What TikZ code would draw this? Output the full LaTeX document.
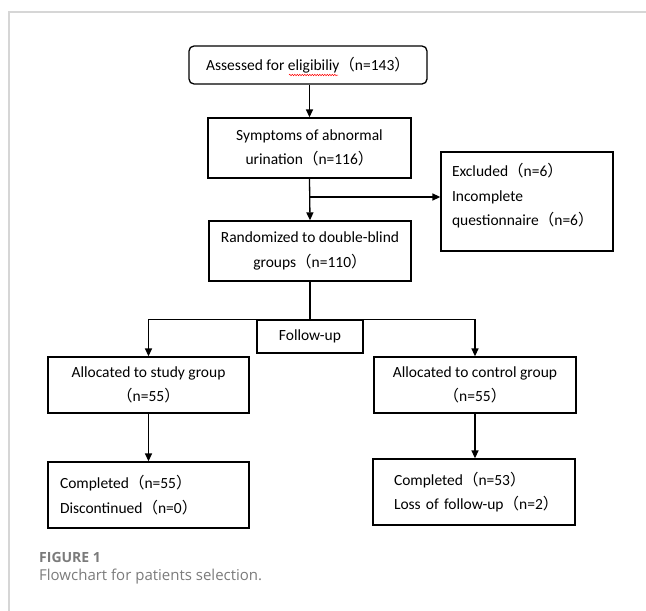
\documentclass[tikz,border=0pt]{standalone}
\usepackage{fontspec}
\setmainfont{Carlito}
\newfontfamily\cjk{Noto Sans CJK SC}
\newfontfamily\capfont{Open Sans}
\usetikzlibrary{arrows.meta,decorations.pathmorphing}
\newcommand{\fwo}{{\cjk （}}
\newcommand{\fwc}{{\cjk ）}}
\definecolor{framegray}{HTML}{D6D6D6}
\definecolor{capgray}{HTML}{7B7B7B}

\begin{document}
\begin{tikzpicture}[x=1pt,y=-1pt,
  >={Triangle[length=8pt,width=7pt]},
  box/.style={draw,line width=1.3pt,inner sep=0pt,align=center,font=\fontsize{15.5}{24.5}\selectfont},
  link/.style={line width=1.3pt},
  captext/.style={anchor=base west,inner sep=0pt,text=capgray}]
\useasboundingbox (0,0) rectangle (646,611);
\draw[framegray,line width=1.5pt] (9,611) -- (9,12) -- (646,12);
% main column
\node[box,rounded corners=5pt,minimum width=238pt,minimum height=38pt] (assess) at (308,65) {Assessed for eligibiliy\fwo n=143\fwc};
\node[box,minimum width=203pt,minimum height=60pt] (sympt) at (309.5,148) {Symptoms of abnormal\\urination\fwo n=116\fwc};
\node[box,minimum width=202pt,minimum height=60pt] (rand) at (310,251) {Randomized to double-blind\\groups\fwo n=110\fwc};
\node[box,align=left,text width=150pt,inner xsep=11pt,minimum height=99pt] (excl) at (527,201.5) {Excluded\fwo n=6\fwc\\Incomplete\\questionnaire\fwo n=6\fwc\\[-11pt]\mbox{}};
\node[box,minimum width=106pt,minimum height=33pt] (follow) at (310,336.5) {Follow-up};
% two arms
\node[box,minimum width=201pt,minimum height=56pt] (study) at (148.5,385) {Allocated to study group\\\fwo n=55\fwc};
\node[box,minimum width=202pt,minimum height=56pt] (ctrl) at (475,385) {Allocated to control group\\\fwo n=55\fwc};
\node[box,align=left,text width=177pt,inner xsep=12pt,minimum height=66pt] (donea) at (148.5,495) {Completed\fwo n=55\fwc\\Discontinued\fwo n=0\fwc};
\node[box,align=left,text width=170pt,inner xsep=16pt,minimum height=66pt] (doneb) at (474,492) {\hspace*{5pt}Completed\fwo n=53\fwc\\\hspace*{5pt}\mbox{Loss of follow-up\fwo n=2\fwc}};
% spell-check squiggle under the typo
\draw[red,line width=0.5pt,decorate,decoration={snake,amplitude=0.7pt,segment length=2.5pt}] (289,75) -- (338,75);
% connectors
\draw[link,->] (sympt.north |- assess.south) -- (sympt.north);
\path (sympt.south) -- (rand.north) coordinate[pos=0.44] (split);
\draw[link,->] (sympt.south) -- (rand.north);
\draw[link,->] (split) -- (split -| excl.west);
\draw[link] (rand.south) -- (rand.south |- follow.north) coordinate (fork);
\draw[link,->] (fork) -| (study.north);
\draw[link,->] (fork) -| (ctrl.north);
\draw[link,->] (study.south) -- (donea.north);
\draw[link,->] (ctrl.south) -- (ctrl.south |- doneb.north);
% caption
\node[captext,font=\capfont\bfseries\fontsize{14}{16}\selectfont] (figno) at (39,562) {FIGURE 1};
\node[captext,font=\capfont\fontsize{15}{18}\selectfont] (caption) at (39,580) {Flowchart for patients selection.};
\end{tikzpicture}
\end{document}
